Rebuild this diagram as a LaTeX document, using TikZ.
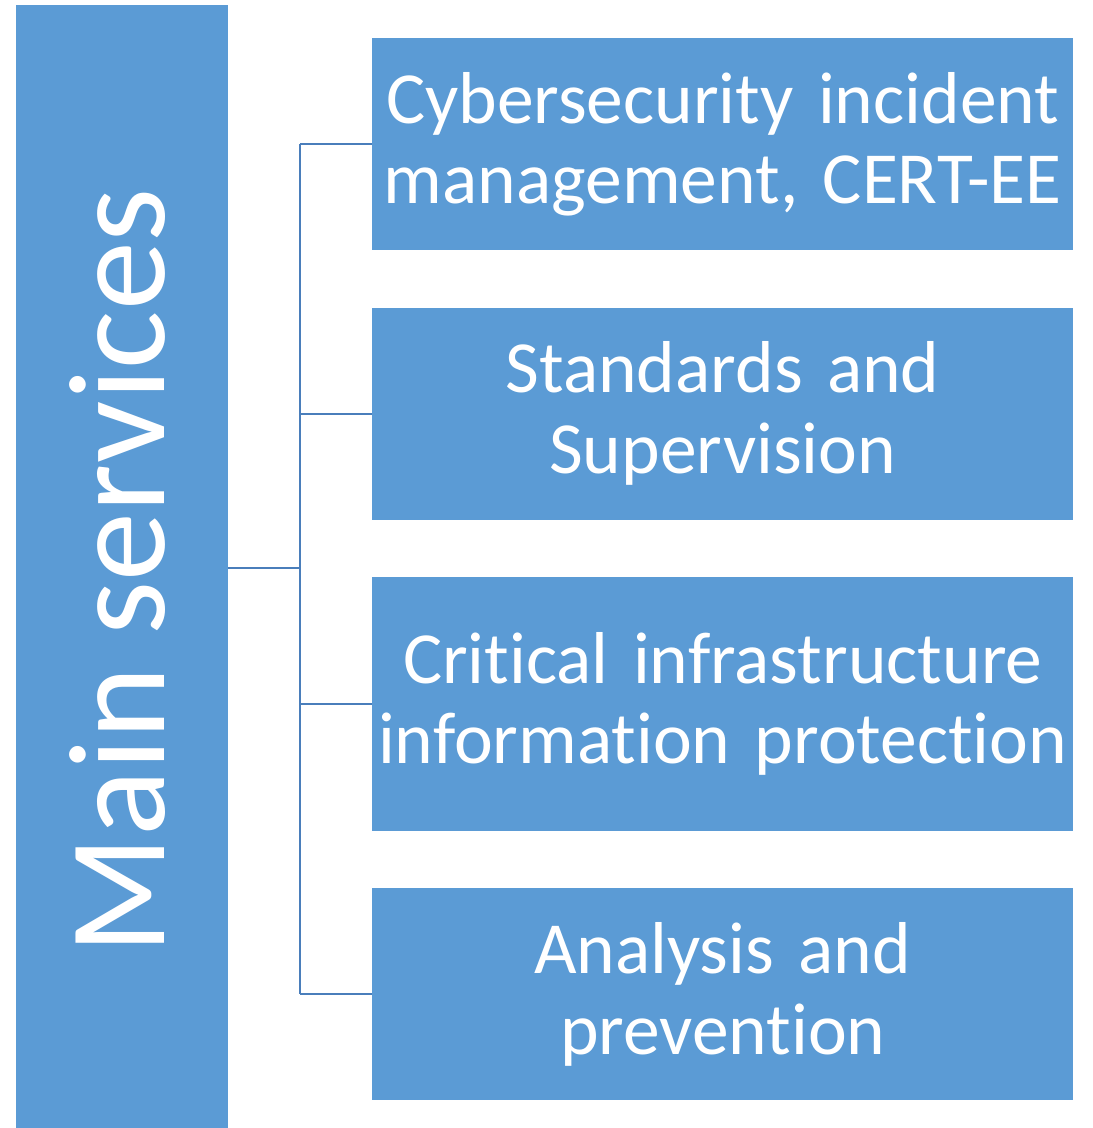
\documentclass[tikz,border=0pt]{standalone}
\usepackage{fontspec}
\setmainfont{Carlito}[Ligatures=NoCommon]
\usepackage{xcolor}
\usepackage{tikz}
\usetikzlibrary{positioning}

\definecolor{boxblue}{HTML}{5B9BD5}
\definecolor{linkblue}{HTML}{4A7EBB}

\begin{document}
\begin{tikzpicture}[
		x=1pt, y=-1pt,
		node distance=57pt,
		mainbox/.style={
			rectangle,
			fill=boxblue,
			text=white,
			inner sep=0pt,
			minimum width=1123pt,
			minimum height=212pt,
			text depth=10pt,
			rotate=90,
			font=\fontsize{138}{150}\selectfont
		},
		servicebox/.style={
			rectangle,
			fill=boxblue,
			text=white,
			inner sep=0pt,
			minimum width=701pt,
			minimum height=212pt,
			text width=701pt,
			align=center,
			font=\fontsize{73.5}{80.5}\selectfont
		},
		link/.style={
			draw=linkblue,
			line width=2pt
		}
		]
		
		\useasboundingbox (0,0) rectangle (1093,1128);
		
		\node[mainbox] (main) at (122,566.5) {Main services\hspace*{10pt}};
		
		\node[servicebox, anchor=north west] (svc1) at (372,38)
		{Cybersecurity incident\\management, CERT-EE};
		
		\node[servicebox, below=of svc1] (svc2)
		{Standards and\\Supervision};
		
		\node[servicebox, minimum height=254pt, below=of svc2] (svc3)
		{Critical infrastructure\\information protection};
		
		\node[servicebox, below=of svc3] (svc4)
		{Analysis and\\prevention};
		
		\coordinate (hub) at (300,568);
		
		\draw[link] (main.south |- hub) -- (hub);
		\draw[link] (hub |- svc1.west) -- (hub |- svc4.west);
		\draw[link] (hub |- svc1.west) -- (svc1.west);
		\draw[link] (hub |- svc2.west) -- (svc2.west);
		\draw[link] (hub |- svc3.west) -- (svc3.west);
		\draw[link] (hub |- svc4.west) -- (svc4.west);
		
	\end{tikzpicture}
\end{document}
